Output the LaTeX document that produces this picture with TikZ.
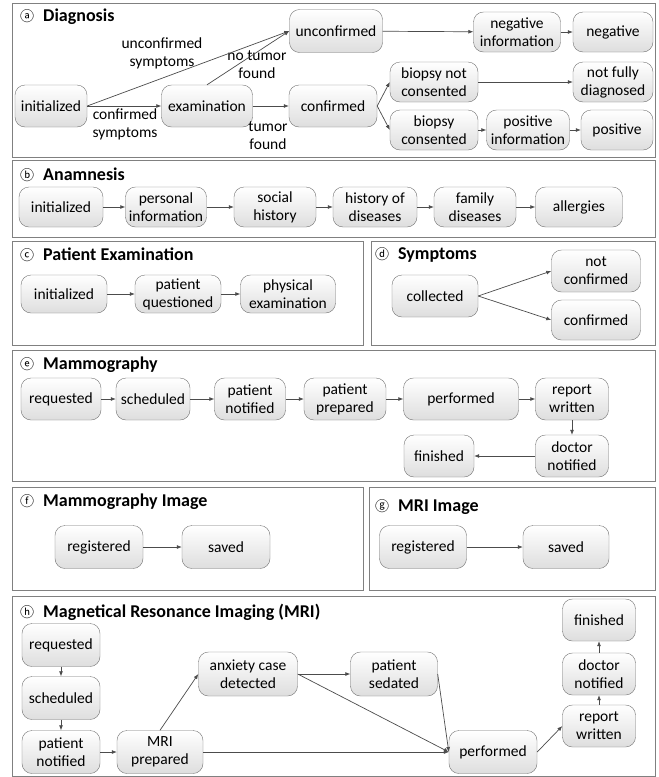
\documentclass[tikz,border=0pt]{standalone}
\usepackage{fontspec}
\setmainfont{Carlito}
\newfontfamily\circfont{Noto Sans CJK SC}
\usetikzlibrary{arrows.meta}

\newcommand\pmark[1]{{\circfont\mdseries\fontsize{14}{14}\selectfont #1}\hspace{9pt}}

\tikzset{
  state/.style={draw=black!55, rounded corners=10pt, top color=white, bottom color=black!13,
    align=center, minimum height=42pt, inner sep=1pt, font=\fontsize{15.5}{18}\selectfont},
  trans/.style={draw=black!70, line width=0.7pt, -{Latex[length=5pt,width=4pt]}},
  panel/.style={draw=black!50, line width=0.9pt},
  title/.style={anchor=west, inner sep=0pt, font=\fontsize{18}{20}\selectfont\bfseries},
  lbl/.style={align=center, inner sep=1pt, font=\fontsize{15.5}{18}\selectfont}
}

\begin{document}
\begin{tikzpicture}[x=1pt,y=-1pt]
\useasboundingbox (0,0) rectangle (659,777);
\fill[white] (0,0) rectangle (659,777);

% panels
\draw[panel] (12,3) rectangle (655,157);
\draw[panel] (12,160) rectangle (655,237);
\draw[panel] (12,241) rectangle (363,345);
\draw[panel] (371,241) rectangle (655,345);
\draw[panel] (12,350) rectangle (655,481);
\draw[panel] (12,487) rectangle (363,590);
\draw[panel] (369,487) rectangle (655,590);
\draw[panel] (12,596) rectangle (655,776);

% (a) Diagnosis
\node[title] (tA) at (20,17) {\pmark{ⓐ}Diagnosis};
\node[state, minimum width=72pt] (iniA) at (51,106) {initialized};
\node[state, minimum width=91pt] (exam) at (207,106) {examination};
\node[state, minimum width=93pt, minimum height=43pt] (unconf) at (336,31) {unconfirmed};
\node[state, minimum width=88pt] (conf) at (333,106) {confirmed};
\node[state, minimum width=87pt, minimum height=40pt] (neginf) at (517,32) {negative\\information};
\node[state, minimum width=80pt, minimum height=40pt] (neg) at (613,32) {negative};
\node[state, minimum width=88pt, minimum height=40pt] (bnc) at (434,82) {biopsy not\\consented};
\node[state, minimum width=80pt, minimum height=40pt] (nfd) at (613,82) {not fully\\diagnosed};
\node[state, minimum width=88pt, minimum height=40pt] (bc) at (434,130) {biopsy\\consented};
\node[state, minimum width=83pt, minimum height=40pt] (posinf) at (528,130) {positive\\information};
\node[state, minimum width=72pt, minimum height=40pt] (pos) at (617,130) {positive};
\node[lbl] (lUnSym) at (162,53) {unconfirmed\\symptoms};
\node[lbl] (lSym) at (125,124) {confirmed\\symptoms};
\node[lbl] (lNoTum) at (257,65) {no tumor\\found};
\node[lbl] (lTum) at (268,136) {tumor\\found};
\draw[trans] (iniA.east) -- (unconf.west);
\draw[trans] (iniA) -- (exam);
\draw[trans] (exam.north) -- (unconf.west);
\draw[trans] (exam) -- (conf);
\draw[trans] (unconf) -- (neginf);
\draw[trans] (neginf) -- (neg);
\draw[trans] (conf.east) -- (bnc.west);
\draw[trans] (conf.east) -- (bc.west);
\draw[trans] (bnc) -- (nfd);
\draw[trans] (bc) -- (posinf);
\draw[trans] (posinf) -- (pos);

% (b) Anamnesis
\node[title] (tB) at (20,175) {\pmark{ⓑ}Anamnesis};
\node[state, minimum width=84pt, minimum height=40pt] (iniB) at (61,207) {initialized};
\node[state, minimum width=81pt, minimum height=40pt] (persinf) at (166,207) {personal\\information};
\node[state, minimum width=82pt, minimum height=40pt] (social) at (275,207) {social\\history};
\node[state, minimum width=84pt, minimum height=40pt] (histdis) at (375,207) {history of\\diseases};
\node[state, minimum width=82pt, minimum height=40pt] (famdis) at (475,207) {family\\diseases};
\node[state, minimum width=87pt, minimum height=40pt] (allerg) at (579,207) {allergies};
\draw[trans] (iniB) -- (persinf);
\draw[trans] (persinf) -- (social);
\draw[trans] (social) -- (histdis);
\draw[trans] (histdis) -- (famdis);
\draw[trans] (famdis) -- (allerg);

% (c) Patient Examination
\node[title] (tC) at (20,255) {\pmark{ⓒ}Patient Examination};
\node[state, minimum width=86pt, minimum height=38pt] (iniC) at (64,294) {initialized};
\node[state, minimum width=86pt, minimum height=38pt] (quest) at (178,294) {patient\\questioned};
\node[state, minimum width=95pt, minimum height=38pt] (phys) at (288,294) {physical\\examination};
\draw[trans] (iniC) -- (quest);
\draw[trans] (quest) -- (phys);

% (d) Symptoms
\node[title] (tD) at (375,255) {\pmark{ⓓ}Symptoms};
\node[state, minimum width=86pt] (coll) at (435,296) {collected};
\node[state, minimum width=89pt] (notconf) at (596,271) {not\\confirmed};
\node[state, minimum width=89pt, minimum height=40pt] (confd) at (596,320) {confirmed};
\draw[trans] (coll.east) -- (notconf.west);
\draw[trans] (coll.east) -- (confd.west);

% (e) Mammography
\node[title] (tE) at (20,365) {\pmark{ⓔ}Mammography};
\node[state, minimum width=80pt] (req) at (61,399) {requested};
\node[state, minimum width=74pt] (sched) at (153,399) {scheduled};
\node[state, minimum width=71pt] (pnot) at (250,399) {patient\\notified};
\node[state, minimum width=82pt] (pprep) at (345,399) {patient\\prepared};
\node[state, minimum width=115pt] (perf) at (461,399) {performed};
\node[state, minimum width=73pt] (rep) at (572,399) {report\\written};
\node[state, minimum width=73pt] (docnot) at (572,456) {doctor\\notified};
\node[state, minimum width=70pt] (fin) at (439,456) {finished};
\draw[trans] (req) -- (sched);
\draw[trans] (sched) -- (pnot);
\draw[trans] (pnot) -- (pprep);
\draw[trans] (pprep) -- (perf);
\draw[trans] (perf) -- (rep);
\draw[trans] (rep) -- (docnot);
\draw[trans] (docnot) -- (fin);

% (f) Mammography Image
\node[title] (tF) at (20,502) {\pmark{ⓕ}Mammography Image};
\node[state, minimum width=88pt, minimum height=43pt] (regF) at (99,547) {registered};
\node[state, minimum width=88pt, minimum height=43pt] (savF) at (226,547) {saved};
\draw[trans] (regF) -- (savF);

% (g) MRI Image
\node[title] (tG) at (375,507) {\pmark{ⓖ}MRI Image};
\node[state, minimum width=87pt, minimum height=43pt] (regG) at (423,547) {registered};
\node[state, minimum width=86pt, minimum height=43pt] (savG) at (566,547) {saved};
\draw[trans] (regG) -- (savG);

% (h) Magnetical Resonance Imaging (MRI)
\node[title] (tH) at (20,612) {\pmark{ⓗ}Magnetical Resonance Imaging (MRI)};
\node[state, minimum width=78pt, minimum height=43pt] (reqH) at (61,645) {requested};
\node[state, minimum width=78pt, minimum height=43pt] (schedH) at (61,698) {scheduled};
\node[state, minimum width=78pt, minimum height=43pt] (pnotH) at (61,752) {patient\\notified};
\node[state, minimum width=86pt, minimum height=43pt] (mri) at (160,752) {MRI\\prepared};
\node[state, minimum width=99pt, minimum height=44pt] (anx) at (248,674) {anxiety case\\detected};
\node[state, minimum width=87pt, minimum height=44pt] (sed) at (394,674) {patient\\sedated};
\node[state, minimum width=88pt, minimum height=43pt] (perfH) at (493,752) {performed};
\node[state, minimum width=73pt] (repH) at (599,726) {report\\written};
\node[state, minimum width=73pt] (docH) at (599,674) {doctor\\notified};
\node[state, minimum width=73pt] (finH) at (599,620) {finished};
\draw[trans] (reqH) -- (schedH);
\draw[trans] (schedH) -- (pnotH);
\draw[trans] (pnotH) -- (mri);
\draw[trans] (mri.north) -- (anx.west);
\draw[trans] (anx) -- (sed);
\draw[trans] (anx.east) -- (perfH.west);
\draw[trans] (sed.east) -- (perfH.west);
\draw[trans] (mri) -- (perfH);
\draw[trans] (perfH.east) -- (repH.west);
\draw[trans] (repH) -- (docH);
\draw[trans] (docH) -- (finH);
\end{tikzpicture}
\end{document}
